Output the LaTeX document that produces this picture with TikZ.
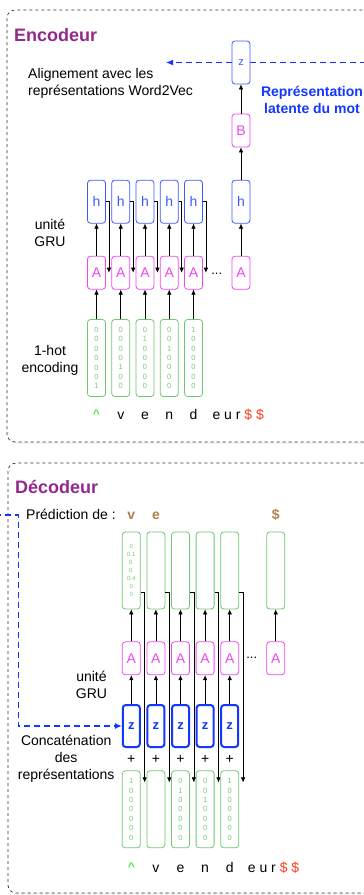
\documentclass[tikz,border=0pt]{standalone}
\usepackage{fontspec}
\setmainfont{Liberation Sans}
\usetikzlibrary{positioning,arrows.meta,shadows}

\definecolor{titre}{RGB}{145,42,142}
\definecolor{rose}{RGB}{240,70,240}
\definecolor{bleu}{RGB}{60,90,255}
\definecolor{bleufort}{RGB}{20,55,255}
\definecolor{vert}{RGB}{110,200,110}
\definecolor{vertclair}{RGB}{115,205,115}
\definecolor{brun}{RGB}{176,128,74}
\definecolor{rouge}{RGB}{255,60,30}
\definecolor{vif}{RGB}{40,230,40}

\tikzset{
  cadre/.style={draw=black!80, dashed, fill=white, rounded corners=8pt, line width=0.7pt,
    drop shadow={opacity=0.12, shadow xshift=1.5pt, shadow yshift=-1.5pt}},
  titrefont/.style={font=\bfseries\fontsize{18}{18}\selectfont, text=titre},
  cell/.style={draw, rounded corners=3pt, minimum width=18pt, inner sep=0pt, fill=white, line width=0.8pt},
  hbox/.style={cell, draw=bleu, text=bleu, minimum height=43pt, font=\fontsize{14}{14}\selectfont},
  abox/.style={cell, draw=rose, text=rose, minimum height=33pt, font=\fontsize{14}{14}\selectfont},
  vbox/.style={cell, draw=vert, minimum height=77pt},
  zbox/.style={cell, draw=bleufort, text=bleufort, line width=2pt, minimum width=17pt, minimum height=42pt,
    font=\bfseries\fontsize{13}{13}\selectfont},
  vec/.style={font=\fontsize{7.5}{9.4}\selectfont, text=vertclair, align=center},
  lbl/.style={font=\fontsize{14}{17}\selectfont, align=center, inner sep=0pt},
  lettre/.style={font=\fontsize{14}{14}\selectfont, anchor=base, inner sep=0pt},
  arr/.style={-{Latex[length=5pt,width=4.5pt]}, line width=0.6pt},
  lien/.style={draw=bleufort, dash pattern=on 6pt off 4pt, line width=1.1pt},
  lienfl/.style={lien, -{Latex[length=7pt,width=6pt]}},
}

\begin{document}
\begin{tikzpicture}[x=1pt,y=-1pt]
\useasboundingbox (0,0) rectangle (364,895);
\clip (0,0) rectangle (364,895);
\pgfmathsetmacro{\EX}{96.5}
\pgfmathsetmacro{\ES}{24.25}
\pgfmathsetmacro{\DX}{131.3}
\pgfmathsetmacro{\DS}{24.6}

\draw[cadre] (7,10) rectangle (395,442);
\draw[cadre] (8,463) rectangle (395,893);

\node[titrefont, anchor=base west, inner sep=0pt] (enc) at (14,41.7) {Encodeur};
\node[lbl, align=left, anchor=west] (alig) at (28,83) {Alignement avec les\\représentations Word2Vec};
\node[lbl, font=\bfseries\fontsize{14}{17}\selectfont, text=bleufort] (latente) at (312,100) {Représentation\\latente du mot};
\node[lbl] (gru) at (50,233) {unité\\GRU};
\node[lbl] (onehot) at (50,360) {1-hot\\encoding};

\foreach \i/\bits in {1/{0\\0\\0\\0\\0\\0\\1},2/{0\\0\\0\\0\\1\\0\\0},3/{0\\1\\0\\0\\0\\0\\0},4/{0\\0\\1\\0\\0\\0\\0},5/{1\\0\\0\\0\\0\\0\\0}} {
  \pgfmathsetmacro{\x}{\EX+(\i-1)*\ES}
  \node[hbox] (h\i) at (\x,201.7) {h};
  \node[abox] (a\i) at (\x,272.7) {A};
  \node[vbox,vec] (v\i) at (\x,358) {\bits};
  \draw[arr] (v\i) -- (a\i);
  \draw[arr] (a\i) -- (h\i);
  \draw[arr] (h\i.east) -| ([xshift=3pt]a\i.east);
}
\node[font=\fontsize{13}{13}\selectfont] (dots) at (216.7,274) {...};
\node[abox] (an) at (241,272.7) {A};
\node[hbox] (hn) at (241,201.7) {h};
\node[abox] (b) at (241,130.5) {B};
\node[hbox, font=\fontsize{11}{11}\selectfont] (z) at (241,62.5) {z};
\draw[arr] (an) -- (hn);
\draw[arr] (hn) -- (b);
\draw[arr] (b) -- (z);

\coordinate (versdec) at (370,62.5);
\coordinate (w2v) at (166,62.5);
\draw[lien] (z.east) -- (versdec);
\draw[lienfl] (z.west) -- (w2v);

\node[lettre, text=vif] (chap) at (v1 |- 0,419) {\textasciicircum};
\foreach \c [count=\i from 2] in {v,e,n,d} {
  \node[lettre] (l\i) at (v\i |- 0,419) {\c};
}
\node[lettre, anchor=base west] (fin) at (212.3,419) {e u r {\color{rouge}\$ \$}};

\node[titrefont, anchor=base west, inner sep=0pt] (dec) at (15,493.3) {Décodeur};
\node[lbl, anchor=base west] (pred) at (26,519.7) {Prédiction de :};
\node[lbl] (gru2) at (91.5,685) {unité\\GRU};
\node[lbl] (concat) at (66.2,758.4) {Concaténation\\des\\représentations};

\foreach \i/\bits in {1/{1\\0\\0\\0\\0\\0\\0},2/{},3/{0\\1\\0\\0\\0\\0\\0},4/{0\\0\\1\\0\\0\\0\\0},5/{1\\0\\0\\0\\0\\0\\0}} {
  \pgfmathsetmacro{\x}{\DX+(\i-1)*\DS}
  \node[vbox] (p\i) at (\x,570.5) {};
  \node[abox] (d\i) at (\x,658.3) {A};
  \node[zbox] (z\i) at (\x,726) {z};
  \node[lbl] (plus\i) at (\x,759) {+};
  \node[vbox,vec] (x\i) at (\x,809.3) {\bits};
  \draw[arr] (d\i) -- (p\i);
  \draw[arr] (z\i) -- (d\i);
  \draw[arr] ([yshift=-22pt]p\i.east) -| ([xshift=4pt,yshift=-12pt]x\i.north east);
}
\node[vec, font=\fontsize{6}{8}\selectfont] (probas) at (p1) {0\\0.1\\0.\\0.\\0.4\\0\\0};
\node[vbox] (p6) at (275.7,570.5) {};
\node[abox] (d6) at (275.7,658.3) {A};
\node[font=\fontsize{13}{13}\selectfont] (dots2) at (251.7,658) {...};
\draw[arr] (d6) -- (p6);

\node[lettre, font=\bfseries\fontsize{14}{14}\selectfont, text=brun] (pv) at (p1 |- pred.base) {v};
\node[lettre, font=\bfseries\fontsize{14}{14}\selectfont, text=brun] (pe) at (p2 |- pred.base) {e};
\node[lettre, font=\bfseries\fontsize{14}{14}\selectfont, text=brun] (pd) at (p6 |- pred.base) {\$};

\coordinate (depuisenc) at (-5,515);
\coordinate (coude) at (18.5,515);
\draw[lienfl] (depuisenc) -- (coude) |- (z1.west);

\node[lettre, text=vif] (chap2) at (x1 |- 0,872) {\textasciicircum};
\foreach \c [count=\i from 2] in {v,e,n,d} {
  \node[lettre] (m\i) at (x\i |- 0,872) {\c};
}
\node[lettre] (m6) at (p6 |- 0,872) {};
\node[lettre, anchor=base west] (fin2) at (247.7,872) {e u r {\color{rouge}\$ \$}};
\end{tikzpicture}
\end{document}
